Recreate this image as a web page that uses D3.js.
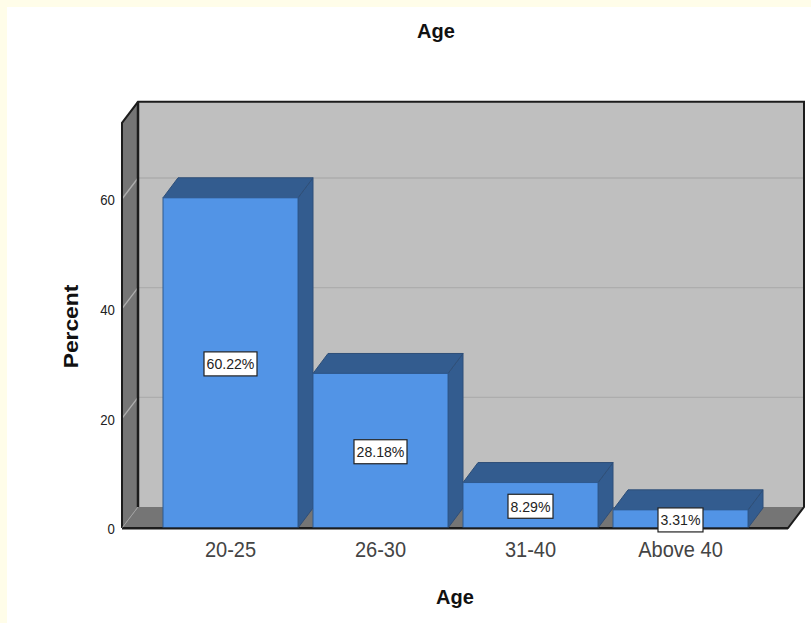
<!DOCTYPE html>
<html>
<head>
<meta charset="utf-8">
<script src="https://cdn.jsdelivr.net/npm/d3@7"></script>
<style>
html,body{margin:0;padding:0;background:#fff;}
svg{display:block;}
text{font-family:"Liberation Sans",Arial,sans-serif;}
</style>
</head>
<body>
<svg id="chart" width="811" height="623"></svg>
<script>
const categories = ["20-25", "26-30", "31-40", "Above 40"];
const percents = [60.22, 28.18, 8.29, 3.31];
const percentLabels = ["60.22%", "28.18%", "8.29%", "3.31%"];
const percentTicks = [0, 20, 40, 60];
const chartTitle = "Age";
const xTitle = "Age";
const yTitle = "Percent";

const svg = d3.select("#chart");
const W = 811, H = 623;

// page frame
svg.append("rect").attr("width", W).attr("height", H).attr("fill", "#fffde9");
svg.append("rect").attr("x", 7).attr("y", 7).attr("width", W - 7).attr("height", H - 7).attr("fill", "#fff");

// scales for the front plane of the box
const y = d3.scaleLinear().domain([0, 60]).range([528, 199]);
const x = d3.scaleBand().domain(categories).range([155.5, 755.5]).paddingInner(0.1).paddingOuter(0.05);
const boxLeft = 122, boxRight = 788, yMax = 73.9;
const depth = {x: 16, y: -21};
const barDepth = {x: 15, y: -20};
const poly = pts => pts.map(p => p.join(",")).join(" ");

const box = svg.append("g");
const boxTop = y(yMax), base = y(0);

// back wall
box.append("polygon")
  .attr("points", poly([[boxLeft + depth.x, boxTop + depth.y], [boxRight + depth.x, boxTop + depth.y], [boxRight + depth.x, base + depth.y], [boxLeft + depth.x, base + depth.y]]))
  .attr("fill", "#bfbfbf");
// left wall
box.append("polygon")
  .attr("points", poly([[boxLeft, boxTop], [boxLeft + depth.x, boxTop + depth.y], [boxLeft + depth.x, base + depth.y], [boxLeft, base]]))
  .attr("fill", "#757575");
// floor
box.append("polygon")
  .attr("points", poly([[boxLeft, base], [boxLeft + depth.x, base + depth.y], [boxRight + depth.x, base + depth.y], [boxRight, base]]))
  .attr("fill", "#757575");

// gridlines running along the left wall and across the back wall
const grid = box.append("g");
percentTicks.filter(t => t > 0).forEach(t => {
  grid.append("path")
    .attr("d", `M${boxLeft},${y(t)}L${boxLeft + depth.x},${y(t) + depth.y}L${boxRight + depth.x},${y(t) + depth.y}`)
    .attr("fill", "none").attr("stroke", "#adadad").attr("stroke-width", 1.4);
});

// box edges
const edge = "#1c1c1c";
box.append("path")
  .attr("d", `M${boxLeft},${base}L${boxLeft},${boxTop}L${boxLeft + depth.x},${boxTop + depth.y}L${boxRight + depth.x},${boxTop + depth.y}L${boxRight + depth.x},${base + depth.y}L${boxRight},${base}L${boxLeft},${base}`)
  .attr("fill", "none").attr("stroke", edge).attr("stroke-width", 2);
box.append("path")
  .attr("d", `M${boxLeft + depth.x},${boxTop + depth.y}L${boxLeft + depth.x},${base + depth.y}`)
  .attr("fill", "none").attr("stroke", edge).attr("stroke-width", 2.5);
box.append("path")
  .attr("d", `M${boxLeft},${base}L${boxLeft + depth.x},${base + depth.y}`)
  .attr("fill", "none").attr("stroke", "#a0a0a0").attr("stroke-width", 1);

// bars, each with a shaded top and side face
const bars = svg.append("g").selectAll("g").data(categories).join("g");
const bx = (d) => x(d), bw = x.bandwidth();
const by = (d, i) => y(percents[i]);
bars.append("polygon").attr("class", "side")
  .attr("points", (d, i) => poly([[bx(d) + bw, by(d, i)], [bx(d) + bw + barDepth.x, by(d, i) + barDepth.y], [bx(d) + bw + barDepth.x, base + barDepth.y], [bx(d) + bw, base]]))
  .attr("fill", "#335c8f").attr("stroke", "#2f4f78").attr("stroke-width", 1);
bars.append("polygon").attr("class", "cap")
  .attr("points", (d, i) => poly([[bx(d), by(d, i)], [bx(d) + barDepth.x, by(d, i) + barDepth.y], [bx(d) + bw + barDepth.x, by(d, i) + barDepth.y], [bx(d) + bw, by(d, i)]]))
  .attr("fill", "#335c8f").attr("stroke", "#2f4f78").attr("stroke-width", 1);
bars.append("rect").attr("class", "front")
  .attr("x", d => bx(d)).attr("y", by).attr("width", bw).attr("height", (d, i) => base - by(d, i))
  .attr("fill", "#5294e6").attr("stroke", "#2f5a8f").attr("stroke-width", 1);

// front baseline
svg.append("line").attr("x1", boxLeft).attr("x2", boxRight).attr("y1", base + 0.5).attr("y2", base + 0.5)
  .attr("stroke", edge).attr("stroke-width", 2);
bars.append("line")
  .attr("x1", d => bx(d)).attr("x2", d => bx(d) + bw).attr("y1", base).attr("y2", base)
  .attr("stroke", "#2f5a8f").attr("stroke-width", 1.5);

// value labels, centred on the bar with a small white box
const labels = svg.append("g").selectAll("g").data(categories).join("g")
  .attr("transform", (d, i) => `translate(${bx(d) + bw / 2},${(by(d, i) + base) / 2 + 1})`);
labels.each(function (d, i) {
  const g = d3.select(this);
  const boxW = percentLabels[i].length > 5 ? 53 : 45;
  g.append("rect").attr("x", -boxW / 2).attr("y", -12).attr("width", boxW).attr("height", 24)
    .attr("fill", "#fff").attr("stroke", "#222").attr("stroke-width", 1.2);
  g.append("text").attr("y", 5.5).attr("text-anchor", "middle").attr("transform", "scale(0.94,1)")
    .attr("font-size", 15).attr("fill", "#222").text(percentLabels[i]);
});

// value axis
const yAxis = svg.append("g").attr("transform", `translate(${boxLeft},1)`)
  .call(d3.axisLeft(y).tickValues(percentTicks).tickSize(0).tickPadding(8));
yAxis.select(".domain").remove();
yAxis.selectAll("text").attr("font-size", 15).attr("fill", "#222").attr("font-family", "Liberation Sans")
  .attr("transform", "scale(0.88,1)");

// category axis, its labels set tall and narrow
const xAxis = svg.append("g").attr("transform", `translate(0,${base})`)
  .call(d3.axisBottom(x).tickSize(0).tickPadding(13));
xAxis.select(".domain").remove();
xAxis.selectAll("text").attr("font-size", 22).attr("fill", "#444").attr("font-family", "Liberation Sans")
  .attr("transform", "scale(0.91,1)");

// titles
svg.append("text").attr("x", 436).attr("y", 38).attr("text-anchor", "middle")
  .attr("font-size", 20).attr("font-weight", "bold").attr("fill", "#111").text(chartTitle);
svg.append("text").attr("x", 455).attr("y", 604).attr("text-anchor", "middle")
  .attr("font-size", 20).attr("font-weight", "bold").attr("fill", "#111").text(xTitle);
svg.append("text").attr("transform", "translate(78,326.5) rotate(-90) scale(1.14,1)").attr("text-anchor", "middle")
  .attr("font-size", 20).attr("font-weight", "bold").attr("fill", "#111").text(yTitle);
</script>
</body>
</html>
